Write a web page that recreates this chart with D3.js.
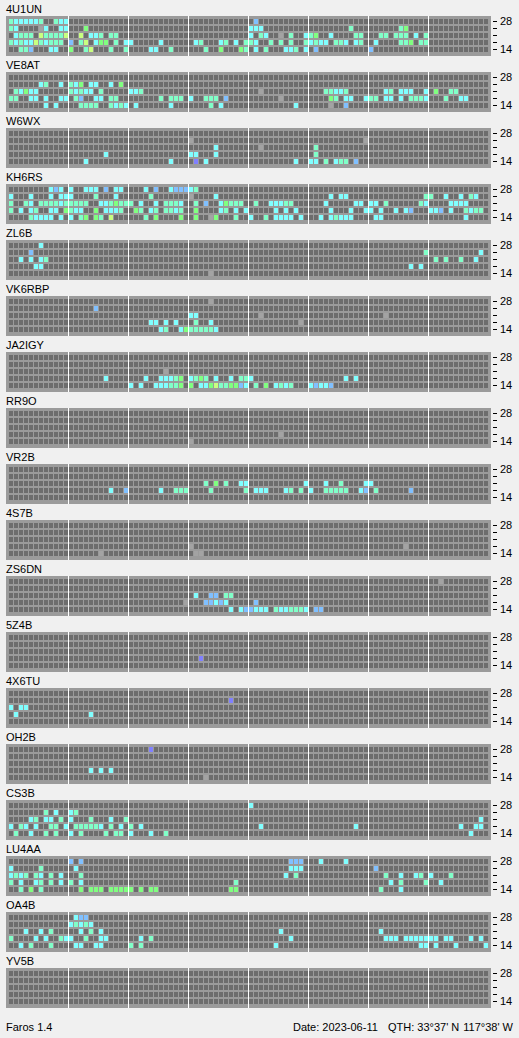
<!DOCTYPE html>
<html>
<head>
<meta charset="utf-8">
<script src="https://cdn.jsdelivr.net/npm/d3@7"></script>
<style>
  body { margin: 0; background: #f0f0f0; }
  text { font-family: "Liberation Sans", Arial, sans-serif; font-size: 11px; fill: #000; }
</style>
</head>
<body>
<div id="chart"></div>
<script>
// beacons, bands and 96 quarter-hour slots (8 blocks of 3 hours)
const beacons = ["4U1UN", "VE8AT", "W6WX", "KH6RS", "ZL6B", "VK6RBP", "JA2IGY", "RR9O", "VR2B",
                 "4S7B", "ZS6DN", "5Z4B", "4X6TU", "OH2B", "CS3B", "LU4AA", "OA4B", "YV5B"];
const bands = ["28", "24", "21", "18", "14"];
const bandTicks = ["28", "", "", "", "14"];
const footerLeft = "Faros 1.4";
const footerDate = "Date: 2023-06-11";
const footerLat = "QTH: 33°37' N";
const footerLon = "117°38' W";

// one string per band (28 MHz first), one char per slot
// . none  g weak  c cyan  a mint  l green  y yellow-green  b blue  p violet
const s4U1UN = [
  "accccca..acc ............ ............ ............ .b.......... ............ ............ ............",
  "ac....gc..cc ...l........ ............ ............ ccc......... ........a... ......al.... ............",
  ".caaa.yaaaay ..y.cca.aa.. ............ ............ c.ac..g.a..c al..c....aa. ..aa.aaa.c.a ............",
  "acaccyacaaa. b.ay.cll.a.c c.....c..... .ca...ca.c.a ac..a.a.a..a cacc.aac.ca. .c....aal.aa ............",
  "..aab...cc.. l..ay...a..a ....cc..a... ...a..l...la .c.a...cca.c .b.......... b........... ............"
];
const sVE8AT = [
  "",
  "......ca..c. acl.cc..c.l.",
  ".aclcc...... acacc.a..... cca......... ............ ..g......... ...aacca.... ...ca.ccc..c .l..aa......",
  "aa..cc.c..cc .ab..cc.aa.. ......a.aaa. c..aaa.b.... ......g..... ....la.cc..c aa.cc.c.aaac ...a..cc....",
  ".......c.c.. ..aaaa..acac .c......c... ....a.c..... .........c.. ....g..b...."
];
const sW6WX = [
  "",
  "............ ............ ............ g........... ............ ...........g",
  "............ ............ ............ .....c...... ..g......... .a..........",
  "............ .......c.... ............ cc...c...... ............ .a..........",
  "............ ...c........ ........c... .p.c........ .........c.. cc.a.caa.b.."
];
const sKH6RS = [
  "........cbc. c..ccc.b.cc. ...c.b..cbbb ca..........",
  "c...c...c.cc c....a...c.. ....a....... g....c...... ............ ....c.cc.... ...........a a..c..c.ac..",
  "a..ac.aaaaca aaaa..ccalaa a.c..c.aaac. .a.b..claaa. .a..cccaa... ...c.....cc. cc.a......ac ....cccc....",
  "a.c.ca..cc.l acc..l.ccca. .la.ca.aaca. .l....ca.c.c .....c.c.c.. ....c...c..c c.c..c.cb... ccb.c..acaa.",
  "....acccc.c. c.al.la.y... ...a.l....l. .l..gl...a.. c..a.cccc.c. ..c.caccc... .cc......... .......c...."
];
const sZL6B = [
  "......c.....",
  "....b....... ............ ............ ............ ............ ............ ...........a ..........c.",
  "..c.c.ca.... ............ ............ ............ ............ ............ ............ .a.a..a..c..",
  ".....cc..... ............ ............ ............ ............ ............ ........c.c.",
  "............ ............ ............ ....g......."
];
const sVK6RBP = [
  "............ ............ ............ ....g.......",
  "............ .....b......",
  "............ ............ ............ cc.......... ..g......... ............ ...g........",
  "............ ............ ....cc.c.c.. .a..c....... ..........g.",
  "............ ............ ......ca..cl aaaaac......"
];
const sJA2IGY = [
  "",
  "",
  "............ ............ .......g....",
  "............ .......c.... ...c..cccal. cala.c..c.aa c........... .......c.c..",
  "............ ............ c.c..cccaal. l.cclyaallbc .a.l.caca... cbccb......."
];
const sRR9O = [
  "",
  "",
  "",
  "............ ............ ............ ............ ......g.....",
  "............ ............ ............ g..........."
];
const sVR2B = [
  "",
  "",
  "............ ............ ............ ...a.l.a..cc ...........c ...c..a....c c...........",
  "............ ........c..b ......c..aaa ....a......a .ccc...ca.a. c..aaaaa..cb .a......b...",
  ""
];
const s4S7B = [
  "",
  "",
  "",
  "............ ............ ............ g........... ............ ............ .......g....",
  "............ ......g..... ............ .gg........."
];
const sZS6DN = [
  "............ ............ ............ ............ ............ ............ ............ ..g.........",
  "",
  "............ ............ ............ .c..bb.aa...",
  "............ ............ ...........g ...bbcbc.... .b..........",
  "............ ............ ............ ........c.cb bccc.accaaac .bb........."
];
const s5Z4B = [
  "",
  "",
  "",
  "............ ............ ............ ..p.........",
  ""
];
const s4X6TU = [
  "",
  "............ ............ ............ ........p...",
  "c.cc........",
  ".c.......... ....c.......",
  ""
];
const sOH2B = [
  "............ ............ ....p.......",
  "",
  "",
  "............ ....c.c.c...",
  "............ ............ ............ ...g........"
];
const sCS3B = [
  "............ ............ ............ ............ c...........",
  ".......a.c.. ca..........",
  "....ca.cc.a. c...a...c..a ............ ............ ............ ............ ............ ..........c.",
  "c.ac.c..aa.c .aaaaac.a.c. a.c......... ............ ..c......... .........c.. ............ ......c..cc.",
  ".a..c..a.a.. c.a....a.aa. c...c..a.... ............ ............ ............ ............ ........c..."
];
const sLU4AA = [
  "............ b.b......... ............ ............ ........bbb. ..c....c....",
  "c.....a..... .c.......... ............ ............ ........ccc. ............ .b..........",
  "caca.ac.a.c. ..a......... ............ ............ .......c.a.. ............ ...a..c..ca. c...a.......",
  "a.c..ca.a.c. a.c......... ............ .........a.. ............ ............ ....c.a....a ..c.........",
  "..a.l.a..... ..l.lll.llll l.l.ll...... ........ll.. ............ ............ ..a...c....."
];
const sOA4B = [
  "............ .cbb........",
  "............ cacac.......",
  "...c..c.a... ..c.a.c..... ............ ............ ......c..... ............ ..c.........",
  "a....c.c..ac c..a..cc.... ..c.a....... ............ ........c... ............ ...ccc.ccccc cc.cc...c.c.",
  "..c.a...a... .cc..cc..... a.a......... ............ .....c...... ............ ..........cc .c...c.....c"
];
const sYV5B = ["", "", "", "", ""];

const slots = [s4U1UN, sVE8AT, sW6WX, sKH6RS, sZL6B, sVK6RBP, sJA2IGY, sRR9O, sVR2B,
               s4S7B, sZS6DN, s5Z4B, s4X6TU, sOH2B, sCS3B, sLU4AA, sOA4B, sYV5B];

const cellColor = {
  ".": "#6d6d6d", g: "#a3a3a3", c: "#80ffff", a: "#80ffc8", l: "#80ff80",
  y: "#c8ff80", b: "#80c0ff", p: "#8080ff"
};

const width = 519, height = 1038;
const nSlots = 96;

const svg = d3.select("#chart").append("svg")
    .attr("width", width)
    .attr("height", height)
    .style("display", "block")
    .style("background", "#f0f0f0");

const panel = d3.scaleBand().domain(beacons).range([16, 16 + 56 * beacons.length]);
const x = d3.scaleLinear().domain([0, nSlots]).range([9, 489]);
const y = d3.scaleBand().domain(bands).range([3, 36]).paddingInner(2 / 7);

const cells = [];
beacons.forEach((name, i) => {
    slots[i].forEach((row, r) => {
        const str = row.replace(/ /g, "").padEnd(nSlots, ".");
        for (let k = 0; k < nSlots; k++) {
            cells.push({ name, band: bands[r], slot: k, code: str[k] });
        }
    });
});

const panels = svg.selectAll(".panel")
    .data(beacons)
    .enter()
    .append("g")
    .attr("class", "panel")
    .attr("transform", d => `translate(0,${panel(d)})`);

panels.append("text")
    .attr("x", 6)
    .attr("y", -3)
    .text(d => d);

panels.append("rect")
    .attr("x", x(0) - 3)
    .attr("y", 0)
    .attr("width", x(nSlots) + 2 - (x(0) - 3))
    .attr("height", y.range()[1] + 4)
    .attr("fill", "#9b9b9b")
    .attr("shape-rendering", "crispEdges");

panels.each(function(name) {
    const g = d3.select(this);
    g.selectAll(".cell")
        .data(cells.filter(c => c.name === name))
        .enter()
        .append("rect")
        .attr("class", "cell")
        .attr("x", d => x(d.slot))
        .attr("y", d => y(d.band))
        .attr("width", x(1) - x(0) - 1)
        .attr("height", y.bandwidth())
        .attr("fill", d => cellColor[d.code] || cellColor["."])
        .attr("shape-rendering", "crispEdges");

    // 3-hour separators
    g.selectAll(".sep")
        .data(d3.range(12, nSlots, 12))
        .enter()
        .append("line")
        .attr("x1", d => x(d) - 0.5)
        .attr("x2", d => x(d) - 0.5)
        .attr("y1", 0)
        .attr("y2", y.range()[1] + 4)
        .attr("stroke", "#ffffff")
        .attr("stroke-width", 1);

    const axis = d3.axisRight(y)
        .tickSize(4)
        .tickPadding(3)
        .offset(0)
        .tickFormat((d, i) => bandTicks[i]);

    g.append("g")
        .attr("transform", `translate(493,0)`)
        .call(axis)
        .call(a => a.select(".domain").remove())
        .call(a => a.selectAll("line").attr("stroke", "#000").attr("shape-rendering", "crispEdges"))
        .call(a => a.selectAll("text").attr("font-family", null).attr("font-size", null));
});

svg.append("text")
    .attr("x", 6)
    .attr("y", 1031)
    .text(footerLeft);

svg.append("text")
    .attr("x", 293)
    .attr("y", 1031)
    .text(footerDate);

svg.append("text")
    .attr("x", 388)
    .attr("y", 1031)
    .text(footerLat);

svg.append("text")
    .attr("x", 513)
    .attr("y", 1031)
    .attr("text-anchor", "end")
    .text(footerLon);
</script>
</body>
</html>
